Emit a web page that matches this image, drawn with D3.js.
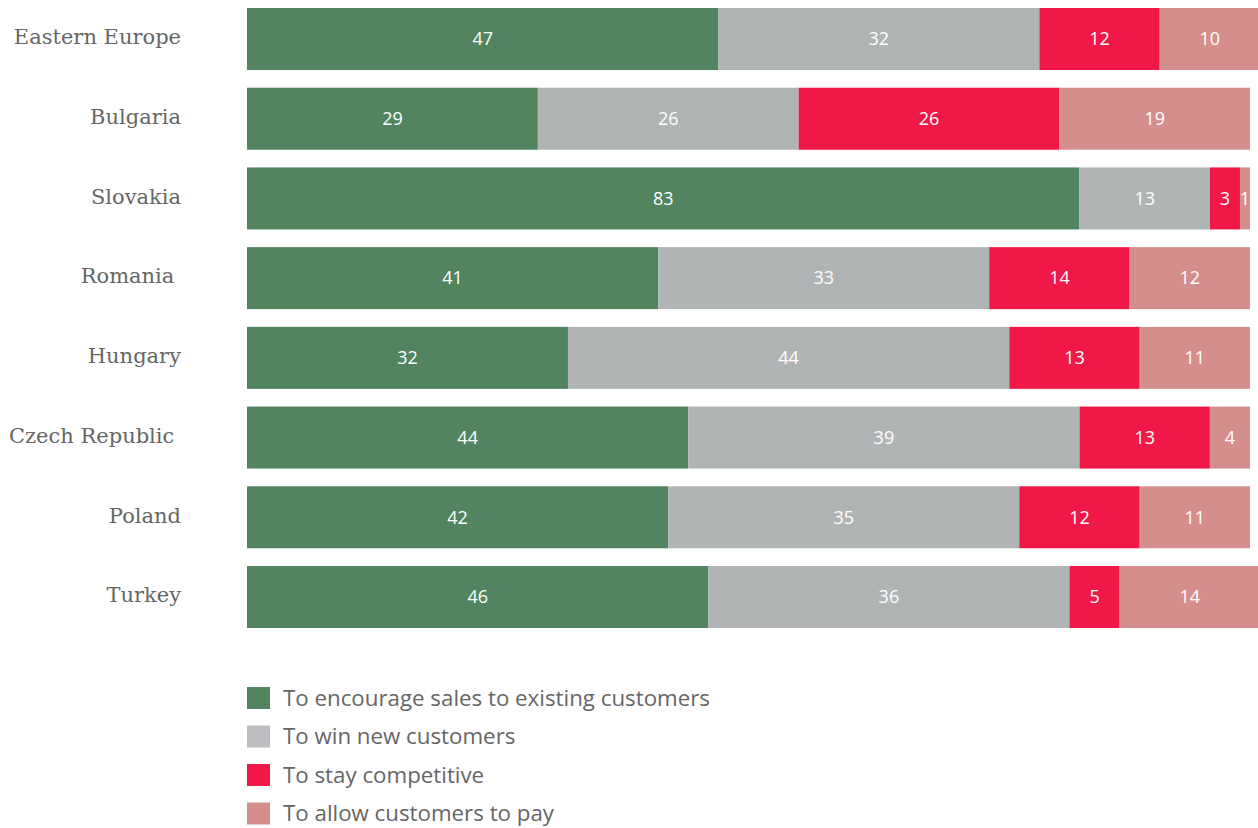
<!DOCTYPE html>
<html>
<head>
<meta charset="utf-8">
<script src="https://cdn.jsdelivr.net/npm/d3@7"></script>
<style>
  html, body { margin: 0; padding: 0; background: #fff; }
  svg { display: block; }
  .country { font-family: "DejaVu Serif", "Liberation Serif", serif; font-size: 21px; fill: #666; white-space: pre; }
  .val { font-family: "Open Sans", "Noto Sans", sans-serif; font-size: 18px; fill: #fff; }
  .leg { font-family: "Open Sans", "Noto Sans", sans-serif; font-size: 22.3px; fill: #666; }
</style>
</head>
<body>
<svg id="chart" width="1258" height="828"></svg>
<script>
// Countries (top to bottom); trailing spaces kept as in the source labels
const countries = ["Eastern Europe", "Bulgaria", "Slovakia", "Romania ", "Hungary", "Czech Republic ", "Poland", "Turkey"];

// Share of respondents (%) per reason
const existing    = [47, 29, 83, 41, 32, 44, 42, 46];
const newCust     = [32, 26, 13, 33, 44, 39, 35, 36];
const competitive = [12, 26, 3, 14, 13, 13, 12, 5];
const allowPay    = [10, 19, 1, 12, 11, 4, 11, 14];

const seriesNames = ["To encourage sales to existing customers", "To win new customers", "To stay competitive", "To allow customers to pay"];
const colors = ["#52845f", "#b1b4b4", "#ef1847", "#d48f8c"];
const legendColors = ["#52845f", "#bcbdc0", "#ef1847", "#d48f8c"];

const keys = ["existing", "newCust", "competitive", "allowPay"];
const rows = countries.map((c, i) => ({
  country: c,
  existing: existing[i],
  newCust: newCust[i],
  competitive: competitive[i],
  allowPay: allowPay[i]
}));

const svg = d3.select("#chart");

const x = d3.scaleLinear().domain([0, 100]).range([247, 1250]);
const y = d3.scaleBand().domain(countries).range([8, 628]).paddingInner(0.222).paddingOuter(0);

const stack = d3.stack().keys(keys)(rows);

const layers = svg.append("g").selectAll("g")
  .data(stack)
  .join("g")
  .attr("fill", (d, i) => colors[i]);

layers.selectAll("rect")
  .data(d => d)
  .join("rect")
  .attr("x", d => x(d[0]))
  .attr("y", d => y(d.data.country))
  .attr("width", d => x(d[1]) - x(d[0]))
  .attr("height", y.bandwidth());

layers.selectAll("text")
  .data(d => d)
  .join("text")
  .attr("class", "val")
  .attr("x", d => (x(d[0]) + x(d[1])) / 2)
  .attr("y", d => y(d.data.country) + y.bandwidth() / 2)
  .attr("dy", "0.35em")
  .attr("text-anchor", "middle")
  .text(d => d[1] - d[0]);

// Country labels
svg.append("g").selectAll("text")
  .data(countries)
  .join("text")
  .attr("class", "country")
  .attr("x", 181)
  .attr("y", d => y(d) + y.bandwidth() / 2 - 2)
  .attr("dy", "0.35em")
  .attr("text-anchor", "end")
  .text(d => d);

// Legend
const legend = svg.append("g").selectAll("g")
  .data(seriesNames)
  .join("g")
  .attr("transform", (d, i) => `translate(247, ${687 + i * 38.5})`);

legend.append("rect")
  .attr("width", 23)
  .attr("height", 22)
  .attr("fill", (d, i) => legendColors[i]);

legend.append("text")
  .attr("class", "leg")
  .attr("x", 36)
  .attr("y", 11)
  .attr("dy", "0.35em")
  .text(d => d);
</script>
</body>
</html>
